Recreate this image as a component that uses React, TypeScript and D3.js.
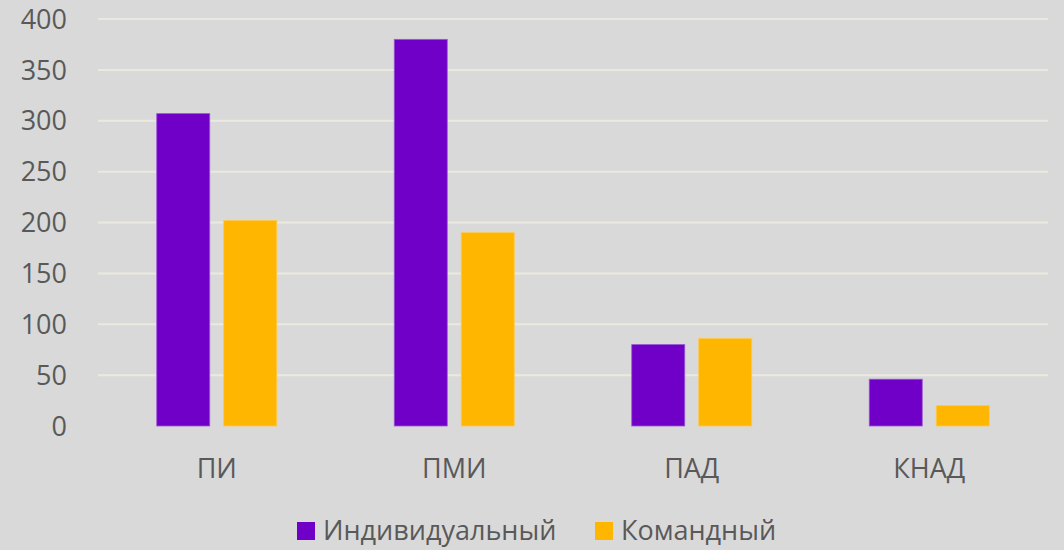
import React from "react";
import * as d3 from "d3";

const categories = ["ПИ", "ПМИ", "ПАД", "КНАД"];
const seriesNames = ["Индивидуальный", "Командный"];
const individual = [307, 380, 80, 46];
const team = [202, 190, 86, 20];
const yTicks = [0, 50, 100, 150, 200, 250, 300, 350, 400];
const colors = ["#7000C8", "#FFB600"];

const W = 1064;
const H = 550;
const left = 98;
const right = 1048;
const top = 19;
const bottom = 426;
const FONT = "'Open Sans', sans-serif";
const TEXT = "#595959";

export default function App() {
  const x = d3.scaleBand<string>().domain(categories).range([left, right]).paddingInner(0).paddingOuter(0);
  const y = d3.scaleLinear().domain([0, 400]).range([bottom, top]);
  const series = [individual, team];
  const barW = 53;
  const gap = 14;

  return (
    <svg width={W} height={H} style={{ position: "absolute", left: 0, top: 0, display: "block" }}>
      <rect x={0} y={0} width={W} height={H} fill="#D9D9D9" />
      {yTicks.map((t) => (
        <g key={t}>
          {t > 0 && (
            <line x1={left} x2={right} y1={y(t)} y2={y(t)} stroke="#EBE9DF" strokeWidth={2} />
          )}
          <text x={67} y={y(t)} dy="0.36em" textAnchor="end" fontFamily={FONT} fontSize={27} fill={TEXT}>
            {t}
          </text>
        </g>
      ))}
      {categories.map((c, i) => {
        const cx = (x(c) as number) + x.bandwidth() / 2;
        return (
          <g key={c}>
            {series.map((s, j) => {
              const bx = j === 0 ? cx - gap / 2 - barW : cx + gap / 2;
              return (
                <rect
                  key={j}
                  x={bx}
                  y={y(s[i])}
                  width={barW}
                  height={y(0) - y(s[i])}
                  fill={colors[j]}
                  stroke={j === 0 ? "#9A55D6" : "#FFC84D"}
                  strokeWidth={0.8}
                />
              );
            })}
            <text x={cx} y={468} dy="0.36em" textAnchor="middle" fontFamily={FONT} fontSize={27} fill={TEXT}>
              {c}
            </text>
          </g>
        );
      })}
      {seriesNames.map((n, j) => {
        const lx = j === 0 ? 297 : 595;
        return (
          <g key={n}>
            <rect x={lx} y={522} width={18} height={18} fill={colors[j]} />
            <text x={lx + 26} y={540} fontFamily={FONT} fontSize={27} fill={TEXT}>
              {n}
            </text>
          </g>
        );
      })}
    </svg>
  );
}
